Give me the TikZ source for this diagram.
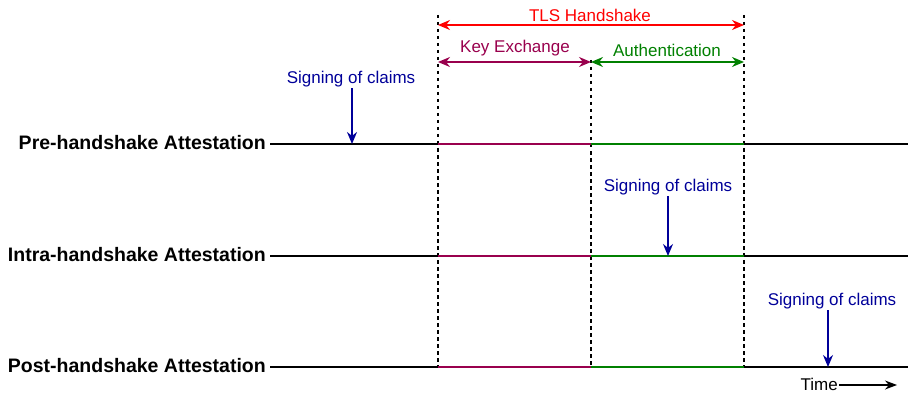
\documentclass[tikz,border=0pt]{standalone}
\usepackage{fontspec}
\setmainfont{Liberation Sans}
\usetikzlibrary{arrows.meta}
\definecolor{kxc}{RGB}{153,0,77}
\definecolor{auc}{RGB}{0,128,0}
\definecolor{sgc}{RGB}{0,0,153}
\begin{document}
\begin{tikzpicture}[x=1pt,y=-1pt,
  rowlabel/.style={font=\fontsize{19.5}{22}\selectfont\bfseries, anchor=east, inner sep=2pt},
  small/.style={font=\fontsize{17}{20}\selectfont, inner sep=1pt},
  tline/.style={line width=1.2pt, black},
  vdash/.style={dash pattern=on 3.5pt off 3.5pt, line width=1.1pt},
  dbl/.style={{Stealth[length=12pt,width=10pt]}-{Stealth[length=12pt,width=10pt]}, line width=1.3pt},
  sig/.style={-{Stealth[length=12pt,width=10pt]}, line width=1.4pt, sgc}]
\useasboundingbox (0,0) rectangle (910,393);
% row labels
\node[rowlabel] (pre) at (268,143) {Pre-handshake Attestation};
\node[rowlabel] (intra) at (268,255) {Intra-handshake Attestation};
\node[rowlabel] (post) at (268,366) {Post-handshake Attestation};
% coordinates
\coordinate (a1) at (438,144); \coordinate (b1) at (591,144); \coordinate (c1) at (744,144); \coordinate (e1) at (908,144);
\coordinate (a2) at (438,256); \coordinate (b2) at (591,256); \coordinate (c2) at (744,256); \coordinate (e2) at (908,256);
\coordinate (a3) at (438,367); \coordinate (b3) at (591,367); \coordinate (c3) at (744,367); \coordinate (e3) at (908,367);
\coordinate (s1) at (270,144); \coordinate (s2) at (270,256); \coordinate (s3) at (270,367);
% dashed verticals
\coordinate (ta) at (438,15); \coordinate (tc) at (744,15); \coordinate (tb) at (591,60);
\draw[vdash] (ta) -- (a3);
\draw[vdash] (tc) -- (c3);
\draw[vdash] (tb) -- (b3);
% timelines
\foreach \i in {1,2,3}{
  \draw[tline] (s\i) -- (a\i);
  \draw[tline, kxc] (a\i) -- (b\i);
  \draw[tline, auc] (b\i) -- (c\i);
  \draw[tline] (c\i) -- (e\i);
}
% top arrows
\coordinate (tls1) at (438,25); \coordinate (tls2) at (744,25);
\draw[dbl, red] (tls1) -- (tls2);
\node[small, red] (tls) at (590,15) {TLS Handshake};
\coordinate (kx1) at (438,62); \coordinate (kx2) at (591,62); \coordinate (au2) at (744,62);
\draw[dbl, kxc] (kx1) -- (kx2);
\draw[dbl, auc] (kx2) -- (au2);
\node[small, kxc] (kx) at (515,48) {Key Exchange};
\node[small, auc] (au) at (667,50) {Authentication};
% signing
\node[small, sgc] (sg1) at (351,79) {Signing of claims};
\node[small, sgc] (sg2) at (668,187) {Signing of claims};
\node[small, sgc] (sg3) at (832,301) {Signing of claims};
\coordinate (p1) at (352,144); \coordinate (p2) at (668,256); \coordinate (p3) at (828,367);
\draw[sig] (sg1.south -| p1) -- (p1);
\draw[sig] (sg2.south -| p2) -- (p2);
\draw[sig] (sg3.south -| p3) -- (p3);
% time
\node[small, anchor=east, inner sep=1pt] (time) at (839,384) {Time};
\coordinate (tend) at (897,385);
\draw[-{Stealth[length=12pt,width=9pt]}, line width=1.3pt] (time.east |- tend) -- (tend);
\end{tikzpicture}
\end{document}
